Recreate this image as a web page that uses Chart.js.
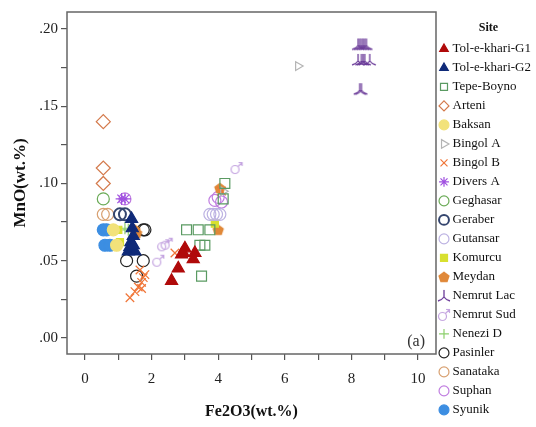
<!DOCTYPE html>
<html>
<head>
<meta charset="utf-8">
<script src="https://cdn.jsdelivr.net/npm/chart.js@4.4.1/dist/chart.umd.min.js"></script>
<style>
  html, body { margin: 0; padding: 0; background: #fff; }
</style>
</head>
<body>
<canvas id="chart" width="536" height="427"></canvas>
<script>
// ---- data (Fe2O3 wt.% / MnO wt.%) ----
const g1Fe = [2.6, 2.8, 2.9, 3.0, 2.95, 3.25, 3.3];
const g1Mn = [0.037, 0.045, 0.054, 0.058, 0.055, 0.051, 0.055];
const g2Fe = [1.4, 1.42, 1.45, 1.38, 1.3, 1.5, 1.35, 1.45];
const g2Mn = [0.077, 0.071, 0.066, 0.062, 0.056, 0.056, 0.059, 0.060];
const tepeFe = [3.05, 3.4, 3.75, 3.45, 3.6, 3.5, 4.2, 4.15];
const tepeMn = [0.070, 0.070, 0.070, 0.060, 0.060, 0.040, 0.100, 0.090];
const arteniFe = [0.55, 0.55, 0.55];
const arteniMn = [0.140, 0.110, 0.100];
const baksanFe = [0.85, 0.95];
const baksanMn = [0.070, 0.060];
const bingolAFe = [6.4, 4.15];
const bingolAMn = [0.176, 0.095];
const bingolBFe = [1.35, 1.5, 1.6, 1.65, 1.7, 1.75, 1.8, 1.7, 2.7, 4.1];
const bingolBMn = [0.026, 0.030, 0.033, 0.044, 0.036, 0.039, 0.041, 0.032, 0.055, 0.095];
const diversFe = [1.1, 1.2];
const diversMn = [0.090, 0.090];
const geghasarFe = [0.55];
const geghasarMn = [0.090];
const geraberFe = [1.05, 1.2];
const geraberMn = [0.080, 0.080];
const gutansarFe = [3.75, 3.85, 3.95, 4.05];
const gutansarMn = [0.080, 0.080, 0.080, 0.080];
const komurcuFe = [1.0, 1.05, 3.9];
const komurcuMn = [0.070, 0.062, 0.074];
const meydanFe = [1.5, 1.55, 4.0, 4.05];
const meydanMn = [0.070, 0.068, 0.070, 0.097];
const lacFe = [8.2, 8.25, 8.3, 8.35, 8.4, 8.45, 8.2, 8.3, 8.35, 8.4, 8.55, 8.25, 8.3];
const lacMn = [0.190, 0.190, 0.190, 0.190, 0.190, 0.190, 0.180, 0.180, 0.180, 0.180, 0.180, 0.161, 0.161];
const sudFe = [4.55, 2.2, 2.35, 2.45];
const sudMn = [0.110, 0.050, 0.060, 0.061];
const neneziFe = [1.2, 1.3];
const neneziMn = [0.071, 0.070];
const pasinlerFe = [1.75, 1.25, 1.75, 1.55, 1.8];
const pasinlerMn = [0.070, 0.050, 0.050, 0.040, 0.070];
const sanatakaFe = [0.55, 0.68];
const sanatakaMn = [0.080, 0.080];
const suphanFe = [1.2, 3.9, 4.0, 4.1];
const suphanMn = [0.090, 0.089, 0.091, 0.088];
const syunikFe = [0.55, 0.65, 0.6, 0.75];
const syunikMn = [0.070, 0.070, 0.060, 0.060];

const xTicks = [0, 1, 2, 3, 4, 5, 6, 7, 8, 9, 10];
const xLabels = [0, 2, 4, 6, 8, 10];
const yTicks = [0, 0.025, 0.05, 0.075, 0.1, 0.125, 0.15, 0.175, 0.2];
const yLabels = [0, 0.05, 0.1, 0.15, 0.2];

const SERIF = '"Liberation Serif", "Times New Roman", serif';

function pts(xs, ys) {
  return xs.map((x, i) => ({ x: x, y: ys[i] }));
}

// small canvas markers for shapes Chart.js does not have
function marker(size, draw) {
  var c = document.createElement('canvas');
  c.width = size; c.height = size;
  draw(c.getContext('2d'), size);
  return c;
}

var lambdaMark = marker(14, function (g) {
  g.strokeStyle = '#6a3a98';
  g.lineWidth = 1.3;
  g.beginPath();
  g.moveTo(7, 1); g.lineTo(7, 8);
  g.moveTo(7, 8); g.quadraticCurveTo(5, 11, 1, 12);
  g.moveTo(7, 8); g.quadraticCurveTo(9, 11, 13, 12);
  g.stroke();
});

var pentaMark = marker(14, function (g) {
  g.fillStyle = '#e08838';
  g.beginPath();
  for (var i = 0; i < 5; i++) {
    var a = -Math.PI / 2 + i * 2 * Math.PI / 5;
    g.lineTo(7 + 6 * Math.cos(a), 7.5 + 6 * Math.sin(a));
  }
  g.closePath();
  g.fill();
});

var marsMark = marker(14, function (g) {
  g.strokeStyle = '#c4a4e0';
  g.lineWidth = 1.2;
  g.beginPath();
  g.arc(5.5, 8.5, 4, 0, Math.PI * 2);
  g.moveTo(8.5, 5.5); g.lineTo(12.5, 1.5);
  g.moveTo(9, 1.5); g.lineTo(12.5, 1.5); g.lineTo(12.5, 5);
  g.stroke();
});

function ds(label, data, style, color, opts) {
  var filled = opts && opts.filled;
  return Object.assign({
    label: label,
    data: data,
    pointStyle: style,
    pointRadius: 6,
    pointHoverRadius: 6,
    pointBorderWidth: 1.2,
    borderColor: color,
    backgroundColor: filled ? color : 'rgba(0,0,0,0)',
    pointBackgroundColor: filled ? color : 'rgba(0,0,0,0)',
    pointBorderColor: color
  }, opts || {});
}

const datasets = [
  ds('Tol-e-khari-G1', pts(g1Fe, g1Mn), 'triangle', '#b00a0a', { filled: true, pointRadius: 7 }),
  ds('Tol-e-khari-G2', pts(g2Fe, g2Mn), 'triangle', '#0f2a78', { filled: true, pointRadius: 7 }),
  ds('Tepe-Boyno', pts(tepeFe, tepeMn), 'rect', '#5a9a62', { pointRadius: 7 }),
  ds('Arteni', pts(arteniFe, arteniMn), 'rectRot', '#d47a4c', { pointRadius: 7 }),
  ds('Baksan', pts(baksanFe, baksanMn), 'circle', '#f2e27a', { filled: true }),
  ds('Bingol A', pts(bingolAFe, bingolAMn), 'triangle', '#b4b4b4', { pointRotation: 90, pointRadius: 5 }),
  ds('Bingol B', pts(bingolBFe, bingolBMn), 'crossRot', '#f07436', { pointRadius: 6 }),
  ds('Divers A', pts(diversFe, diversMn), 'star', '#a050e0', { pointRadius: 6 }),
  ds('Geghasar', pts(geghasarFe, geghasarMn), 'circle', '#6aaa56'),
  ds('Geraber', pts(geraberFe, geraberMn), 'circle', '#34456e', { pointBorderWidth: 2 }),
  ds('Gutansar', pts(gutansarFe, gutansarMn), 'circle', '#bcb2e2'),
  ds('Komurcu', pts(komurcuFe, komurcuMn), 'rect', '#d8e030', { filled: true, pointRadius: 5 }),
  ds('Meydan', pts(meydanFe, meydanMn), pentaMark, '#e08838', { filled: true }),
  ds('Nemrut Lac', pts(lacFe, lacMn), lambdaMark, '#6a3a98'),
  ds('Nemrut Sud', pts(sudFe, sudMn), marsMark, '#c4a4e0'),
  ds('Nenezi D', pts(neneziFe, neneziMn), 'cross', '#8ccf6c', { pointRadius: 6 }),
  ds('Pasinler', pts(pasinlerFe, pasinlerMn), 'circle', '#222222'),
  ds('Sanataka', pts(sanatakaFe, sanatakaMn), 'circle', '#d8a070'),
  ds('Suphan', pts(suphanFe, suphanMn), 'circle', '#c07ee0'),
  ds('Syunik', pts(syunikFe, syunikMn), 'circle', '#3c8ee2', { filled: true })
];

// frame round the plot and the "(a)" panel tag
const framePlugin = {
  id: 'frame',
  afterDraw(chart) {
    const ctx = chart.ctx, a = chart.chartArea;
    ctx.save();
    ctx.strokeStyle = '#666';
    ctx.lineWidth = 1.5;
    ctx.strokeRect(a.left, a.top, a.right - a.left, a.bottom - a.top);
    ctx.fillStyle = '#333';
    ctx.font = '16px ' + SERIF;
    ctx.textAlign = 'right';
    ctx.textBaseline = 'alphabetic';
    ctx.fillText('(a)', a.right - 11, a.bottom - 8);
    ctx.restore();
  }
};

new Chart(document.getElementById('chart'), {
  type: 'scatter',
  data: { datasets: datasets },
  plugins: [framePlugin],
  options: {
    responsive: false,
    animation: false,
    layout: { padding: { top: 12, left: 0, right: -5, bottom: 0 } },
    plugins: {
      tooltip: { enabled: false },
      legend: {
        position: 'right',
        align: 'start',
        title: {
          display: true,
          text: 'Site',
          color: '#111',
          font: { family: SERIF, size: 12, weight: 'bold' },
          padding: { top: 10, bottom: 0 }
        },
        labels: {
          usePointStyle: true,
          boxWidth: 4,
          boxHeight: 7,
          padding: 6,
          color: '#111',
          font: { family: SERIF, size: 13 }
        }
      }
    },
    scales: {
      x: {
        type: 'linear',
        min: -0.54,
        max: 10.54,
        afterFit(s) { s.height = 73; },
        afterBuildTicks(s) { s.ticks = xTicks.map(v => ({ value: v })); },
        border: { display: false },
        grid: { drawOnChartArea: false, drawTicks: true, tickLength: 6, color: '#555', lineWidth: 1.2 },
        ticks: {
          color: '#222',
          font: { family: SERIF, size: 15 },
          padding: 10,
          maxRotation: 0,
          autoSkip: false,
          callback: v => xLabels.includes(v) ? String(v) : ''
        },
        title: {
          display: true,
          text: 'Fe2O3(wt.%)',
          color: '#111',
          font: { family: SERIF, size: 16, weight: 'bold' },
          padding: { top: 6, bottom: 6 }
        }
      },
      y: {
        type: 'linear',
        min: -0.0104,
        max: 0.211,
        afterFit(s) { s.width = 67; },
        afterBuildTicks(s) { s.ticks = yTicks.map(v => ({ value: v })); },
        border: { display: false },
        grid: { drawOnChartArea: false, drawTicks: true, tickLength: 6, color: '#555', lineWidth: 1.2 },
        ticks: {
          color: '#222',
          font: { family: SERIF, size: 15 },
          padding: 3,
          autoSkip: false,
          callback: v => yLabels.some(l => Math.abs(l - v) < 1e-9) ? v.toFixed(2).replace(/^0/, '') : ''
        },
        title: {
          display: true,
          text: 'MnO(wt.%)',
          color: '#111',
          font: { family: SERIF, size: 17, weight: 'bold' },
          padding: { top: 10, bottom: 4 }
        }
      }
    }
  }
});
</script>
</body>
</html>
